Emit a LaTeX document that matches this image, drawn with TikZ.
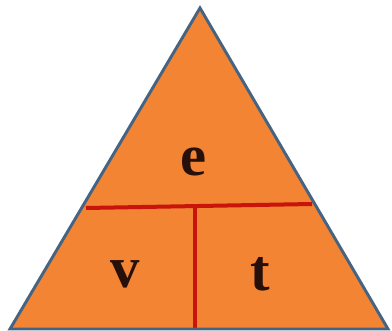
\documentclass[tikz,border=0pt]{standalone}
\usepackage{fontspec}
\setmainfont{Liberation Serif}
\definecolor{tri}{RGB}{242,132,52}
\definecolor{edge}{RGB}{70,100,130}
\definecolor{redline}{RGB}{200,20,10}
\definecolor{letter}{RGB}{40,16,10}
\tikzset{
  lbl/.style={text=letter, font=\fontsize{44}{44}\selectfont\bfseries, inner sep=0pt},
  divider/.style={draw=redline, line width=3pt}
}
\begin{document}
\begin{tikzpicture}[x=0.75pt,y=-0.75pt]
\useasboundingbox (0,0) rectangle (392,331);
\fill[white] (0,0) rectangle (392,331);
\coordinate (A) at (200,8);
\coordinate (L) at (10,329);
\coordinate (R) at (388,329);
\fill[tri] (A) -- (L) -- (R) -- cycle;
\coordinate (hl) at (86,208);
\coordinate (hr) at (312,204);
\coordinate (vt) at (195,206);
\coordinate (vb) at (195,329);
\draw[divider] (hl) -- (hr);
\draw[divider] (vt) -- (vb);
\draw[draw=edge, line width=2.2pt, line join=miter] (A) -- (L) -- (R) -- cycle;
\node[lbl] (e) at (194,162) {e};
\node[lbl] (v) at (125,274) {v};
\node[lbl] (t) at (260,274) {t};
\end{tikzpicture}
\end{document}
